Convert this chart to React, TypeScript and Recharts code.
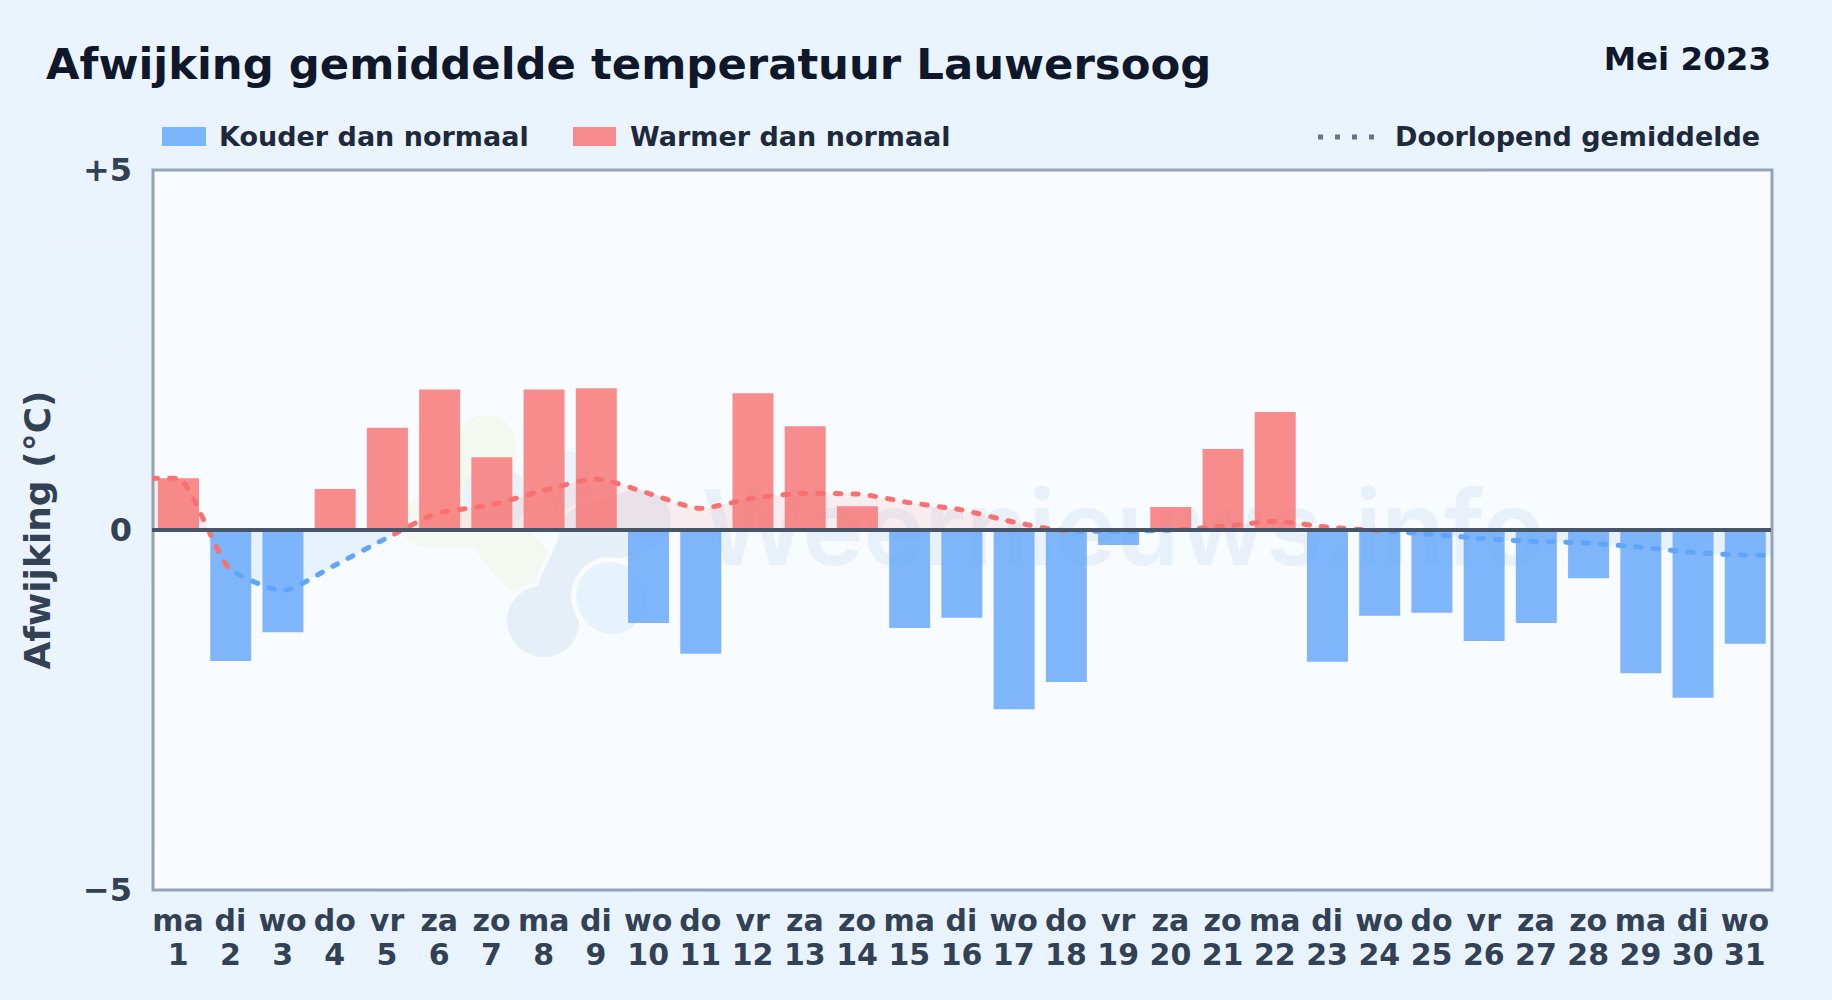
import React from "react";
import { ComposedChart, Bar, Line, Area, XAxis, YAxis, ReferenceLine } from "recharts";

const days = [1,2,3,4,5,6,7,8,9,10,11,12,13,14,15,16,17,18,19,20,21,22,23,24,25,26,27,28,29,30,31];
const weekdays = ["ma","di","wo","do","vr","za","zo","ma","di","wo","do","vr","za","zo","ma","di","wo","do","vr","za","zo","ma","di","wo","do","vr","za","zo","ma","di","wo"];
const deviations = [0.72,-1.82,-1.42,0.57,1.42,1.95,1.01,1.95,1.97,-1.29,-1.72,1.90,1.44,0.33,-1.36,-1.22,-2.49,-2.11,-0.21,0.32,1.125,1.64,-1.83,-1.19,-1.15,-1.54,-1.29,-0.67,-1.99,-2.33,-1.58];
const meanPositions = [0.5,1,2,3,4,5,6,7,8,9,10,11,12,13,14,15,16,17,18,19,20,21,22,23,24,25,26,27,28,29,30,31,31.5];
const meanValues = [0.72,0.72,-0.55,-0.84,-0.49,-0.11,0.24,0.35,0.55,0.71,0.51,0.30,0.44,0.51,0.50,0.38,0.28,0.11,-0.01,-0.02,0,0.05,0.12,0.04,-0.01,-0.06,-0.12,-0.16,-0.18,-0.24,-0.31,-0.35,-0.35];
// day numbers at which the running-mean line changes colour: red, blue, red, blue, red, blue
const colourChanges = [2,5,18,20,24];
const yTicks = [-5,0,5];
const yTickLabels: Record<number,string> = { "-5": "−5", "0": "0", "5": "+5" };

const RED = "#f87171";
const BLUE = "#60a5fa";
const INK = "#334155";
const PLOT_BG = "#f8fbff";
const FONT = "'DejaVu Sans', sans-serif";

const barRows = days.map((day, i) => ({
  day,
  warm: deviations[i] > 0 ? deviations[i] : null,
  cold: deviations[i] < 0 ? deviations[i] : null,
}));
const meanRows = meanPositions.map((day, i) => ({ day, mean: meanValues[i] }));
const meanMax = Math.max(...meanValues);
const meanMin = Math.min(...meanValues);
const zeroOffset = `${(100 * meanMax) / (meanMax - meanMin)}%`;

const lineStops: { offset: string; color: string }[] = [];
colourChanges.forEach((d, i) => {
  const offset = `${(100 * (d - 0.5)) / 31}%`;
  lineStops.push({ offset, color: i % 2 === 0 ? RED : BLUE });
  lineStops.push({ offset, color: i % 2 === 0 ? BLUE : RED });
});

// monotone curve with short handles: keeps the corners at each day tighter than d3's monotoneX
const softMonotone = (ctx: any) => {
  let xs: number[] = [];
  let ys: number[] = [];
  let inArea = false;
  let lineIdx = 0;
  return {
    areaStart() { inArea = true; lineIdx = 0; },
    areaEnd() { inArea = false; },
    lineStart() { xs = []; ys = []; },
    point(x: number, y: number) { xs.push(x); ys.push(y); },
    lineEnd() {
      const n = xs.length;
      if (n) {
        if (inArea && lineIdx === 1) ctx.lineTo(xs[0], ys[0]); else ctx.moveTo(xs[0], ys[0]);
        const s: number[] = [];
        for (let i = 0; i < n - 1; i++) s.push((ys[i + 1] - ys[i]) / (xs[i + 1] - xs[i]));
        const m = xs.map((_, i) => {
          if (i === 0 || i === n - 1) return 0;
          const a = s[i - 1], b = s[i];
          return a * b <= 0 ? 0 : (2 * a * b) / (a + b);
        });
        for (let i = 0; i < n - 1; i++) {
          const h = (xs[i + 1] - xs[i]) * 0.22;
          ctx.bezierCurveTo(xs[i] + h, ys[i] + m[i] * h, xs[i + 1] - h, ys[i + 1] - m[i + 1] * h, xs[i + 1], ys[i + 1]);
        }
        if (inArea && lineIdx === 1) ctx.closePath();
      }
      lineIdx++;
    },
  };
};

const DayTick = (props: any) => {
  const { x, y, payload } = props;
  const idx = days.indexOf(payload.value);
  return (
    <text x={x} y={y} textAnchor="middle" fontFamily={FONT} fontWeight={700} fontSize={30} fill={INK}>
      <tspan x={x} y={y + 33}>{weekdays[idx]}</tspan>
      <tspan x={x} y={y + 67}>{payload.value}</tspan>
    </text>
  );
};

const legendStyle: React.CSSProperties = {
  position: "absolute", fontFamily: FONT, fontWeight: 700, fontSize: 27, lineHeight: "30px", color: "#1e293b", whiteSpace: "nowrap",
};

const Backdrop = () => (
  <svg width={1832} height={1000} style={{ position: "absolute", left: 0, top: 0 }}>
    <rect x={153} y={170} width={1619} height={720} fill={PLOT_BG} stroke="#94a3b8" strokeWidth={3} />
    <g fill="none" strokeLinecap="round" strokeLinejoin="round">
      <g stroke="#f3f9f0">
        <path d="M486 445 L478 500" strokeWidth={60} />
        <path d="M425 522 L490 522" strokeWidth={50} />
        <path d="M490 525 L523 565" strokeWidth={56} />
      </g>
      <path d="M492 495 L500 497" stroke="#e9f2f9" strokeWidth={58} />
      <path d="M567 472 L575 510" stroke="#e9f4fb" strokeWidth={42} />
      <g stroke={PLOT_BG}>
        <path d="M542 621 L544 622" strokeWidth={78} />
        <path d="M545 618 L568 590" strokeWidth={58} />
        <path d="M568 590 L590 542" strokeWidth={68} />
        <path d="M590 535 L640 520" strokeWidth={70} />
      </g>
      <g stroke="#e6eff7">
        <path d="M542 621 L544 622" strokeWidth={70} />
        <path d="M545 618 L568 590" strokeWidth={50} />
        <path d="M568 590 L590 542" strokeWidth={60} />
        <path d="M590 535 L640 520" strokeWidth={62} />
      </g>
      <path d="M610 596 L612 600" stroke={PLOT_BG} strokeWidth={78} />
      <path d="M610 596 L612 600" stroke="#e7f3fc" strokeWidth={68} />
    </g>
    <text x={702} y={565} fontFamily="Inter, sans-serif" fontWeight={600} fontSize={104} fill="#e8f1f9" textLength={843}>Weernieuws.info</text>
  </svg>
);

export default function App() {
  return (
    <div style={{ position: "absolute", left: 0, top: 0, width: 1832, height: 1000, overflow: "hidden", background: "linear-gradient(135deg,#ebf4fd 0%,#e8f3fd 100%)" }}>
      <div style={{ position: "absolute", left: 46, top: 36, fontFamily: FONT, fontWeight: 700, fontSize: 43.35, lineHeight: "56px", color: "#0f172a", whiteSpace: "nowrap" }}>
        Afwijking gemiddelde temperatuur Lauwersoog
      </div>
      <div style={{ position: "absolute", right: 61, top: 41, fontFamily: FONT, fontWeight: 700, fontSize: 32.5, lineHeight: "36px", color: "#0f172a", whiteSpace: "nowrap" }}>
        Mei 2023
      </div>

      <div style={{ position: "absolute", left: 162, top: 127, width: 44, height: 19, background: BLUE, opacity: 0.8 }} />
      <div style={{ ...legendStyle, left: 219, top: 122 }}>Kouder dan normaal</div>
      <div style={{ position: "absolute", left: 573, top: 127, width: 43, height: 19, background: RED, opacity: 0.8 }} />
      <div style={{ ...legendStyle, left: 630, top: 122 }}>Warmer dan normaal</div>
      <svg width={60} height={10} style={{ position: "absolute", left: 1316, top: 132 }}>
        <line x1={2} x2={58} y1={5} y2={5} stroke="#64748b" strokeWidth={5} strokeDasharray="5 12" />
      </svg>
      <div style={{ ...legendStyle, left: 1395, top: 122 }}>Doorlopend gemiddelde</div>

      <Backdrop />

      <div style={{ position: "absolute", left: -1, top: 0 }}>
        <ComposedChart width={1832} height={1000} data={barRows} margin={{ top: 170, right: 60, bottom: 40, left: 0 }} barGap={0}>
          <defs>
            <linearGradient id="meanFill" x1="0" y1="0" x2="0" y2="1">
              <stop offset={zeroOffset} stopColor={RED} stopOpacity={0.18} />
              <stop offset={zeroOffset} stopColor={BLUE} stopOpacity={0.18} />
            </linearGradient>
            <linearGradient id="meanStroke" x1="0" y1="0" x2="1" y2="0">
              {lineStops.map((s, i) => (
                <stop key={i} offset={s.offset} stopColor={s.color} />
              ))}
            </linearGradient>
          </defs>
          <XAxis dataKey="day" type="number" domain={[0.5, 31.5]} ticks={days} interval={0} height={70} tick={<DayTick />} axisLine={false} tickLine={false} allowDataOverflow />
          <XAxis xAxisId="mean" dataKey="day" type="number" domain={[0.5, 31.5]} hide height={0} allowDataOverflow />
          <YAxis
            type="number" domain={[-5, 5]} ticks={yTicks} width={153} interval={0}
            tickFormatter={(v: number) => yTickLabels[v]}
            axisLine={false} tickLine={false} tickMargin={14}
            tick={{ fontFamily: FONT, fontWeight: 700, fontSize: 32, fill: INK }}
            label={{ value: "Afwijking (°C)", angle: -90, position: "insideLeft", offset: 38, style: { textAnchor: "middle", fontFamily: FONT, fontWeight: 700, fontSize: 36, fill: INK } }}
          />
          <Area xAxisId="mean" data={meanRows} dataKey="mean" type={softMonotone as any} baseValue={0} stroke="none" fill="url(#meanFill)" isAnimationActive={false} dot={false} activeDot={false} />
          <Bar dataKey="cold" name="Kouder dan normaal" stackId="d" barSize={41} fill={BLUE} fillOpacity={0.8} isAnimationActive={false} />
          <Bar dataKey="warm" name="Warmer dan normaal" stackId="d" barSize={41} fill={RED} fillOpacity={0.8} isAnimationActive={false} />
          <Line xAxisId="mean" data={meanRows} dataKey="mean" name="Doorlopend gemiddelde" type={softMonotone as any} stroke="url(#meanStroke)" strokeWidth={5} strokeDasharray="5.5 12" strokeLinecap="round" dot={false} activeDot={false} isAnimationActive={false} />
          <ReferenceLine y={0} stroke="#475569" strokeWidth={4} zIndex={600} />
        </ComposedChart>
      </div>
    </div>
  );
}
